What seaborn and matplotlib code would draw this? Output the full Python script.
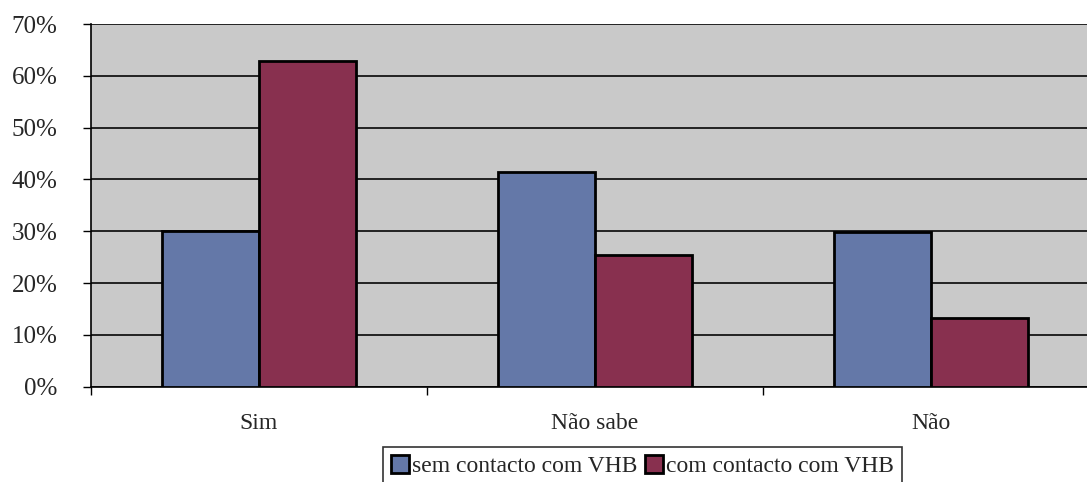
import matplotlib
matplotlib.use("Agg")
import matplotlib.pyplot as plt
import seaborn as sns
import pandas as pd
from matplotlib.ticker import FixedLocator, PercentFormatter

categories = ["Sim", "Não sabe", "Não"]
series_names = ["sem contacto com VHB", "com contacto com VHB"]
sem_contacto = [30.1, 41.5, 29.8]
com_contacto = [62.9, 25.4, 13.2]
y_ticks = [0, 10, 20, 30, 40, 50, 60, 70]

df = pd.DataFrame({
    "cat": categories * 2,
    "grupo": [series_names[0]] * 3 + [series_names[1]] * 3,
    "valor": sem_contacto + com_contacto,
})

sns.set_theme(style="white")
plt.rcParams["font.family"] = ["Liberation Serif", "DejaVu Serif"]

fig = plt.figure(figsize=(10.87, 4.82), dpi=100)
ax = fig.add_axes([0.0837, 0.198, 0.9273, 0.752])
ax.set_facecolor("#c9c9c9")

sns.barplot(data=df, x="cat", y="valor", hue="grupo", order=categories,
            hue_order=series_names, palette=["#6478a8", "#88304f"],
            saturation=1, width=0.578, edgecolor="black", linewidth=2,
            ax=ax, zorder=3)

ax.set_ylim(0, 70)
ax.set_xlim(-0.5, 2.5)
ax.yaxis.set_major_locator(FixedLocator(y_ticks))
ax.yaxis.set_major_formatter(PercentFormatter(decimals=0))
ax.grid(axis="y", color="#222222", linewidth=1.4, zorder=1)
ax.set_axisbelow(True)
for s in ["top", "right"]:
    ax.spines[s].set_visible(False)
for s in ["left", "bottom"]:
    ax.spines[s].set_color("black")
    ax.spines[s].set_linewidth(1.2)

ax.tick_params(axis="y", which="major", length=6, width=1, color="black",
               direction="out", left=True, labelsize=18, pad=18)
ax.tick_params(axis="x", which="major", length=0, labelsize=17, pad=19)
ax.xaxis.set_minor_locator(FixedLocator([-0.5, 0.5, 1.5, 2.5]))
ax.tick_params(axis="x", which="minor", length=6, width=1, color="black",
               direction="out", bottom=True)
ax.set_xlabel("")
ax.set_ylabel("")

ax.get_legend().remove()
handles, labels = ax.get_legend_handles_labels()
leg = fig.legend(handles, labels, loc="upper left",
                 bbox_to_anchor=(0.352, 0.0726), ncol=2, frameon=True,
                 fancybox=False, edgecolor="black", fontsize=17,
                 handlelength=0.78, handleheight=0.78, handletextpad=0.13,
                 columnspacing=0.3, borderpad=0.35, borderaxespad=0)
leg.get_frame().set_linewidth(1.2)

fig.savefig("out.png", dpi=100, facecolor="white")
